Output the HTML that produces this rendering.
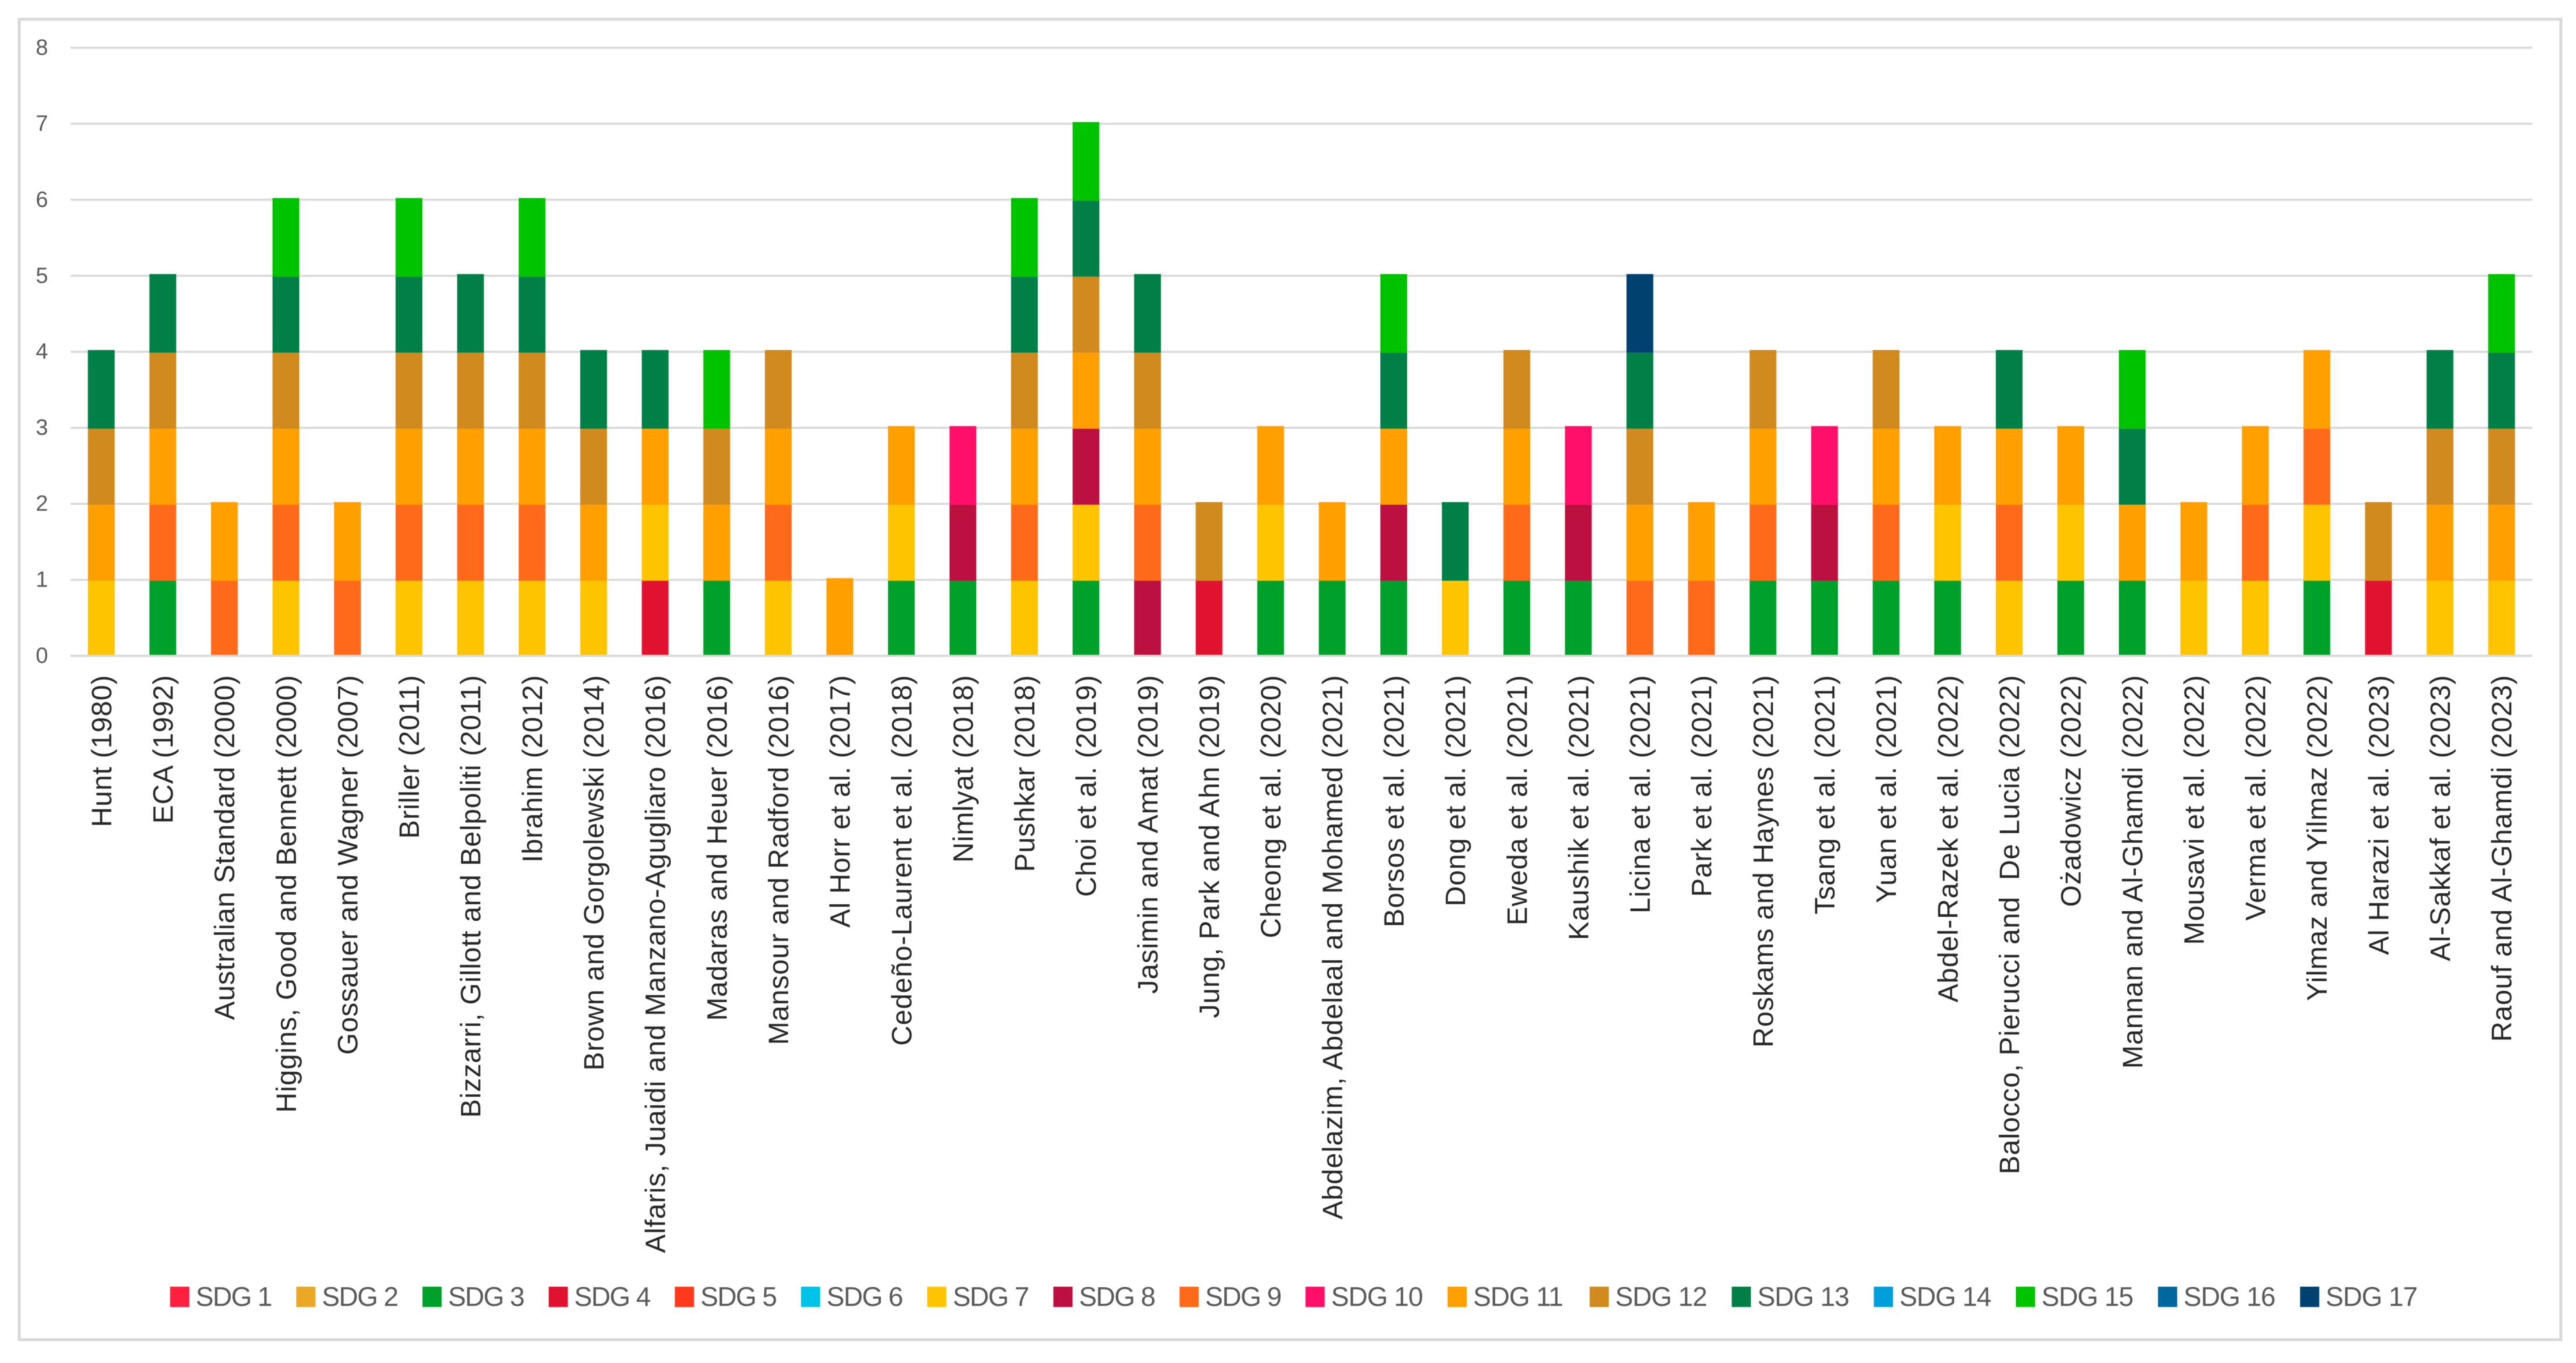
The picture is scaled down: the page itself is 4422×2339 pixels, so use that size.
<!DOCTYPE html>
<html lang="en">
<head>
<meta charset="utf-8">
<title>SDG coverage by publication</title>
<style>
html,body{margin:0;padding:0;background:#fff;width:4422px;height:2339px;overflow:hidden}
svg{display:block;filter:blur(0.8px)}
text{font-family:"Liberation Sans",sans-serif}
</style>
</head>
<body>
<svg id="chart" xmlns="http://www.w3.org/2000/svg" width="4422" height="2339" viewBox="0 0 4422 2339">
<rect x="33" y="33" width="4363" height="2266" fill="#fff" stroke="#d9d9d9" stroke-width="5"/>
</svg>
<script>
const categories = ["Hunt (1980)","ECA (1992)","Australian Standard (2000)","Higgins, Good and Bennett (2000)","Gossauer and Wagner (2007)","Briller (2011)","Bizzarri, Gillott and Belpoliti (2011)","Ibrahim (2012)","Brown and Gorgolewski (2014)","Alfaris, Juaidi and Manzano-Agugliaro (2016)","Madaras and Heuer (2016)","Mansour and Radford (2016)","Al Horr et al. (2017)","Cedeño-Laurent et al. (2018)","Nimlyat (2018)","Pushkar (2018)","Choi et al. (2019)","Jasimin and Amat (2019)","Jung, Park and Ahn (2019)","Cheong et al. (2020)","Abdelazim, Abdelaal and Mohamed (2021)","Borsos et al. (2021)","Dong et al. (2021)","Eweda et al. (2021)","Kaushik et al. (2021)","Licina et al. (2021)","Park et al. (2021)","Roskams and Haynes (2021)","Tsang et al. (2021)","Yuan et al. (2021)","Abdel-Razek et al. (2022)","Balocco, Pierucci and  De Lucia (2022)","Ożadowicz (2022)","Mannan and Al-Ghamdi (2022)","Mousavi et al. (2022)","Verma et al. (2022)","Yilmaz and Yilmaz (2022)","Al Harazi et al. (2023)","Al-Sakkaf et al. (2023)","Raouf and Al-Ghamdi (2023)"];
const yTicks = [0,1,2,3,4,5,6,7,8];
const seriesNames = ["SDG 1","SDG 2","SDG 3","SDG 4","SDG 5","SDG 6","SDG 7","SDG 8","SDG 9","SDG 10","SDG 11","SDG 12","SDG 13","SDG 14","SDG 15","SDG 16","SDG 17"];
const seriesColors = ["#FF1F3F","#EBA726","#00A12A","#E11230","#FF3A1C","#00C3E8","#FFC400","#BC1140","#FF6A1A","#FF0F69","#FF9F00","#D08A1D","#007F46","#009FDC","#00C300","#00689F","#00416F"];
const sdg1  = [0,0,0,0,0,0,0,0,0,0, 0,0,0,0,0,0,0,0,0,0, 0,0,0,0,0,0,0,0,0,0, 0,0,0,0,0,0,0,0,0,0];
const sdg2  = [0,0,0,0,0,0,0,0,0,0, 0,0,0,0,0,0,0,0,0,0, 0,0,0,0,0,0,0,0,0,0, 0,0,0,0,0,0,0,0,0,0];
const sdg3  = [0,1,0,0,0,0,0,0,0,0, 1,0,0,1,1,0,1,0,0,1, 1,1,0,1,1,0,0,1,1,1, 1,0,1,1,0,0,1,0,0,0];
const sdg4  = [0,0,0,0,0,0,0,0,0,1, 0,0,0,0,0,0,0,0,1,0, 0,0,0,0,0,0,0,0,0,0, 0,0,0,0,0,0,0,1,0,0];
const sdg5  = [0,0,0,0,0,0,0,0,0,0, 0,0,0,0,0,0,0,0,0,0, 0,0,0,0,0,0,0,0,0,0, 0,0,0,0,0,0,0,0,0,0];
const sdg6  = [0,0,0,0,0,0,0,0,0,0, 0,0,0,0,0,0,0,0,0,0, 0,0,0,0,0,0,0,0,0,0, 0,0,0,0,0,0,0,0,0,0];
const sdg7  = [1,0,0,1,0,1,1,1,1,1, 0,1,0,1,0,1,1,0,0,1, 0,0,1,0,0,0,0,0,0,0, 1,1,1,0,1,1,1,0,1,1];
const sdg8  = [0,0,0,0,0,0,0,0,0,0, 0,0,0,0,1,0,1,1,0,0, 0,1,0,0,1,0,0,0,1,0, 0,0,0,0,0,0,0,0,0,0];
const sdg9  = [0,1,1,1,1,1,1,1,0,0, 0,1,0,0,0,1,0,1,0,0, 0,0,0,1,0,1,1,1,0,1, 0,1,0,0,0,1,1,0,0,0];
const sdg10 = [0,0,0,0,0,0,0,0,0,0, 0,0,0,0,1,0,0,0,0,0, 0,0,0,0,1,0,0,0,1,0, 0,0,0,0,0,0,0,0,0,0];
const sdg11 = [1,1,1,1,1,1,1,1,1,1, 1,1,1,1,0,1,1,1,0,1, 1,1,0,1,0,1,1,1,0,1, 1,1,1,1,1,1,1,0,1,1];
const sdg12 = [1,1,0,1,0,1,1,1,1,0, 1,1,0,0,0,1,1,1,1,0, 0,0,0,1,0,1,0,1,0,1, 0,0,0,0,0,0,0,1,1,1];
const sdg13 = [1,1,0,1,0,1,1,1,1,1, 0,0,0,0,0,1,1,1,0,0, 0,1,1,0,0,1,0,0,0,0, 0,1,0,1,0,0,0,0,1,1];
const sdg14 = [0,0,0,0,0,0,0,0,0,0, 0,0,0,0,0,0,0,0,0,0, 0,0,0,0,0,0,0,0,0,0, 0,0,0,0,0,0,0,0,0,0];
const sdg15 = [0,0,0,1,0,1,0,1,0,0, 1,0,0,0,0,1,1,0,0,0, 0,1,0,0,0,0,0,0,0,0, 0,0,0,1,0,0,0,0,0,1];
const sdg16 = [0,0,0,0,0,0,0,0,0,0, 0,0,0,0,0,0,0,0,0,0, 0,0,0,0,0,0,0,0,0,0, 0,0,0,0,0,0,0,0,0,0];
const sdg17 = [0,0,0,0,0,0,0,0,0,0, 0,0,0,0,0,0,0,0,0,0, 0,0,0,0,0,1,0,0,0,0, 0,0,0,0,0,0,0,0,0,0];
const seriesValues = [sdg1,sdg2,sdg3,sdg4,sdg5,sdg6,sdg7,sdg8,sdg9,sdg10,sdg11,sdg12,sdg13,sdg14,sdg15,sdg16,sdg17];

const NS = 'http://www.w3.org/2000/svg';
const svg = document.getElementById('chart');
const plotLeft = 121, plotRight = 4347, yZero = 1125.5, yUnit = 130.45, barWidth = 46;
const xCenter = i => plotLeft + (i + 0.5) * (plotRight - plotLeft) / categories.length;
const yPos = v => yZero - v * yUnit;
function make(tag, attrs, parent) {
  const el = document.createElementNS(NS, tag);
  for (const k in attrs) el.setAttribute(k, attrs[k]);
  (parent || svg).appendChild(el);
  return el;
}

yTicks.forEach(t => {
  const line = make('line', {x1: plotLeft, x2: plotRight, y1: yPos(t), y2: yPos(t), stroke: '#d9d9d9', 'stroke-width': 3.5});
  
  
  const label = make('text', {x: 72, y: yPos(t) + 12, 'text-anchor': 'middle', 'font-size': 38, fill: '#595959'});
  label.textContent = t;
  
  
});

categories.forEach((name, i) => {
  const total = seriesValues.reduce((sum, s) => sum + s[i], 0);
  let cum = 0;
  seriesValues.forEach((values, s) => {
    const v = values[i];
    if (!v) return;
    const top = yPos(cum + v) + 1.5 - (cum + v === total ? 4.5 : 0);
    const bottom = yPos(cum) + 1.5;
    const bar = make('rect', {x: xCenter(i) - barWidth / 2, y: top, width: barWidth, height: bottom - top, fill: seriesColors[s]});
    
    
    cum += v;
  });
  const bx = xCenter(i) + 17, by = 1158;
  const label = make('text', {x: bx, y: by, 'text-anchor': 'end', 'font-size': 48, 'letter-spacing': 0.72, fill: '#262626', 'xml:space': 'preserve', style: 'white-space:pre', transform: 'rotate(-90 ' + bx + ' ' + by + ')'});
  label.textContent = name;
  
  
});

const axisLine = make('line', {x1: plotLeft, x2: plotRight, y1: yZero, y2: yZero, stroke: '#d9d9d9', 'stroke-width': 3.5});



seriesNames.forEach((name, s) => {
  const n = s + 1;
  const lx = n < 10 ? 292 + (n - 1) * 216.6 : 2241 + (n - 10) * 243.9;
  const swatch = make('rect', {x: lx, y: 2208, width: 33, height: 35, fill: seriesColors[s]});
  
  
  const text = make('text', {x: lx + 44, y: 2241, 'font-size': 46, 'letter-spacing': n < 10 ? -1.6 : -1.1, fill: '#595959'});
  text.textContent = name;
  
  
});
</script>
</body>
</html>
